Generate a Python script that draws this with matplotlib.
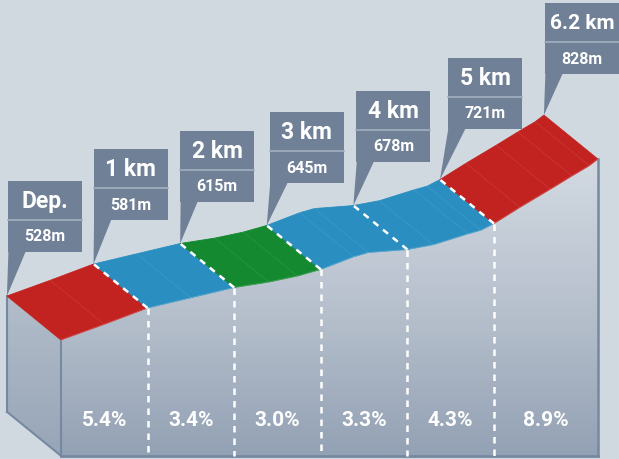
import numpy as np
import matplotlib
matplotlib.use("Agg")
import matplotlib.pyplot as plt
from matplotlib.patches import Polygon, Rectangle
from matplotlib.transforms import IdentityTransform
from matplotlib.colors import LinearSegmentedColormap

# ---------------- data ----------------
profile_km = [0.0, 0.5, 1.0, 1.5, 2.0, 2.4, 2.73, 3.0, 3.38, 3.55, 4.0, 4.3, 4.7, 4.85, 5.0,
              5.3, 5.65, 5.9, 6.1, 6.2]
profile_elev = [528, 554, 581, 598, 615, 624, 634, 645, 666, 673, 678, 686, 704, 710, 721,
                748, 778, 800, 817, 828]

marker_km = [0, 1, 2, 3, 4, 5, 6.2]
marker_labels = ["Dep.", "1 km", "2 km", "3 km", "4 km", "5 km", "6.2 km"]
marker_elev = [528, 581, 615, 645, 678, 721, 828]
elev_labels = ["528m", "581m", "615m", "645m", "678m", "721m", "828m"]

grade_labels = ["5.4%", "3.4%", "3.0%", "3.3%", "4.3%", "8.9%"]

RED, BLUE, GREEN = "#c22320", "#2a8ec0", "#14892f"
segment_colors = [RED, BLUE, GREEN, BLUE, BLUE, RED]

# ---------------- layout / style ----------------
BG = "#d1d9e0"
BOX = "#6f8097"
DIVIDER = "#a3afbf"
EDGE = "#7689a0"
BASE = 336            # elevation of the bottom of the block
DKM, DM = -0.624, 73  # depth offset of the back edge (km, m)
FONT = ["Roboto", "DejaVu Sans"]

fig = plt.figure(figsize=(6.19, 4.60), dpi=100)
fig.patch.set_facecolor(BG)
ax = fig.add_axes([0, 0, 1, 1])
ax.set_facecolor(BG)
ax.set_xlim(-0.704, 6.443)
ax.set_ylim(330.7, 1093.5)
ax.axis("off")

pk = np.array(profile_km)
pe = np.array(profile_elev)

# ---------- gradient faces ----------
cmap = LinearSegmentedColormap.from_list(
    "face", [(0.0, "#93a1b4"), (0.45, "#b4becb"), (1.0, "#d3dae2")])
grad = np.linspace(0, 1, 256).reshape(-1, 1)

front_poly = Polygon(list(zip(pk, pe)) + [(pk[-1], BASE), (pk[0], BASE)],
                     closed=True, fc="none", ec="none")
ax.add_patch(front_poly)
im = ax.imshow(grad, cmap=cmap, origin="lower", aspect="auto",
               extent=(pk[0], pk[-1], BASE, 830), zorder=1, interpolation="bilinear")
im.set_clip_path(front_poly)

left_pts = [(pk[0] + DKM, pe[0] + DM), (pk[0], pe[0]), (pk[0], BASE), (pk[0] + DKM, BASE + DM)]
left_poly = Polygon(left_pts, closed=True, fc="none", ec="none")
ax.add_patch(left_poly)
cmap_l = LinearSegmentedColormap.from_list("left", [(0.0, "#97a5b7"), (1.0, "#b3bdca")])
im2 = ax.imshow(grad, cmap=cmap_l, origin="lower", aspect="auto",
                extent=(pk[0] + DKM, pk[0], BASE, pe[0] + DM), zorder=1, interpolation="bilinear")
im2.set_clip_path(left_poly)

# edges of block
ax.plot([pk[0], pk[0]], [pe[0], BASE], color=EDGE, lw=1.5, zorder=2)
ax.plot([pk[-1], pk[-1]], [pe[-1], BASE], color=EDGE, lw=1.8, zorder=2)
ax.plot([pk[0], pk[-1]], [BASE, BASE], color=EDGE, lw=2.0, zorder=2)
ax.plot([pk[0] + DKM, pk[0] + DKM], [pe[0] + DM, BASE + DM], color=EDGE, lw=1.5, zorder=2)
ax.plot([pk[0] + DKM, pk[0]], [BASE + DM, BASE], color=EDGE, lw=1.5, zorder=2)

# ---------- top face segments ----------
for i, col in enumerate(segment_colors):
    k0, k1 = marker_km[i], marker_km[i + 1]
    m = (pk >= k0 - 1e-9) & (pk <= k1 + 1e-9)
    fk, fe = pk[m], pe[m]
    pts = list(zip(fk, fe)) + list(zip(fk[::-1] + DKM, fe[::-1] + DM))
    ax.add_patch(Polygon(pts, closed=True, fc=col, ec=col, lw=0.6, zorder=3))
    for k, e in zip(fk[1:-1], fe[1:-1]):
        ax.plot([k, k + DKM], [e, e + DM], color="white", alpha=0.09, lw=0.6, zorder=4)
    ax.plot(fk, fe, color="white", alpha=0.15, lw=1.0, zorder=4)

# ---------- dashed km separators ----------
for k, e in zip(marker_km[1:-1], marker_elev[1:-1]):
    ax.plot([k, k + DKM], [e, e + DM], color="white", lw=1.8, dashes=(2.6, 2.4), zorder=5)
    ax.plot([k, k], [e, BASE], color="white", lw=1.8, dashes=(2.6, 2.4), zorder=5)

# ---------- grade labels ----------
for i, g in enumerate(grade_labels):
    xm = 0.5 * (marker_km[i] + marker_km[i + 1])
    ax.text(xm, 397, g, ha="center", va="center", color="white",
            fontsize=15, fontweight="bold", family=FONT, zorder=6)

# ---------- callouts ----------
fig.canvas.draw()
W, H_BOT, H_TOP = 74, 32, 39
box_dx = [1, 0, 0, 3, 3, 8, 1]
box_gap = [44, 44, 42, 42, 44, 51, 41]
top_fs = [16.5, 16.5, 16.5, 16.5, 16.5, 16.5, 15]
ident = IdentityTransform()
for i in range(len(marker_km)):
    tx, ty = ax.transData.transform((marker_km[i] + DKM, marker_elev[i] + DM))
    left = tx + box_dx[i]
    bottom = ty + box_gap[i]
    ax.add_patch(Polygon([(left + 0.5, bottom + 1), (left + 18, bottom + 1), (tx, ty)],
                         closed=True, transform=ident, fc=BOX, ec="none", zorder=10))
    ax.add_patch(Rectangle((left, bottom), W, H_BOT + H_TOP, transform=ident,
                           fc=BOX, ec="none", zorder=10))
    ax.plot([left, left + W], [bottom + H_BOT, bottom + H_BOT], transform=ident,
            color=DIVIDER, lw=1.2, zorder=11)
    ax.text(left + W / 2, bottom + H_BOT + H_TOP / 2, marker_labels[i], transform=ident,
            ha="center", va="center", color="white", fontsize=top_fs[i],
            fontweight="bold", family=FONT, zorder=12)
    ax.text(left + W / 2, bottom + H_BOT / 2, elev_labels[i], transform=ident,
            ha="center", va="center", color="white", fontsize=11.5,
            fontweight="bold", family=FONT, zorder=12)

fig.savefig("out.png", dpi=100, facecolor=BG)
